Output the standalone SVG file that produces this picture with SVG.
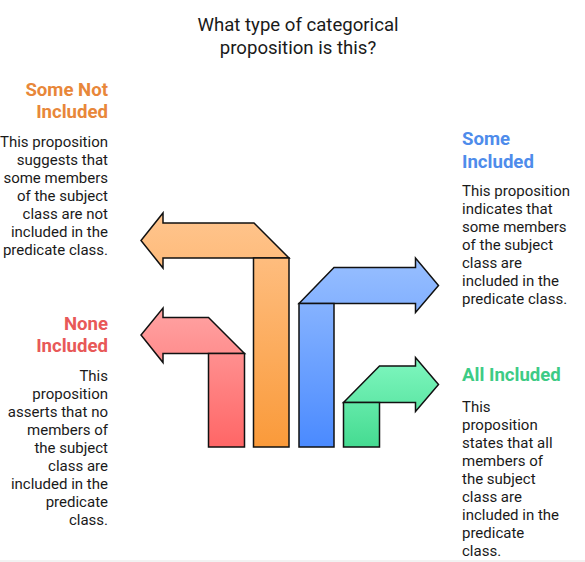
<svg xmlns="http://www.w3.org/2000/svg" width="585" height="562" viewBox="0 0 585 562">
<defs>
<linearGradient id="gOv" gradientUnits="userSpaceOnUse" x1="0" y1="213" x2="0" y2="447"><stop offset="0" stop-color="#FFC58E"/><stop offset="1" stop-color="#FA9A3A"/></linearGradient>
<linearGradient id="gRv" gradientUnits="userSpaceOnUse" x1="0" y1="308" x2="0" y2="447"><stop offset="0" stop-color="#FFA3A3"/><stop offset="1" stop-color="#FF6666"/></linearGradient>
<linearGradient id="gBv" gradientUnits="userSpaceOnUse" x1="0" y1="258" x2="0" y2="447"><stop offset="0" stop-color="#98BFFF"/><stop offset="1" stop-color="#4A8AFF"/></linearGradient>
<linearGradient id="gGv" gradientUnits="userSpaceOnUse" x1="0" y1="357" x2="0" y2="447"><stop offset="0" stop-color="#80F7C0"/><stop offset="1" stop-color="#45DB91"/></linearGradient>
</defs>
<style>
.sh{stroke:#111;stroke-width:1.5;stroke-linejoin:miter}
.t{font-family:Roboto,"Liberation Sans",sans-serif;fill:#1a1a1a}
.title{font-size:18.6px;text-anchor:middle}
.h{font-size:18.6px;font-weight:bold}
.b{font-size:15px}
.r{text-anchor:end}
</style>
<rect x="0" y="560" width="585" height="2" fill="#F2F2F2"/>
<g id="title"><text class="t title" x="298" y="31">What type of categorical</text><text class="t title" x="298" y="54">proposition is this?</text></g>
<g id="arrow-some-not-included">
<polygon class="sh" fill="url(#gOv)" points="163,258 163,268 141,240.5 163,213 163,223 254,223 289,258"/>
<rect class="sh" fill="url(#gOv)" x="253.5" y="258" width="35.5" height="189"/>
</g>
<g id="arrow-none-included">
<polygon class="sh" fill="url(#gRv)" points="163,353.5 163,362.5 141,335 163,308 163,317.5 208.5,317.5 244.5,353.5"/>
<rect class="sh" fill="url(#gRv)" x="208.5" y="353.5" width="36" height="93.5"/>
</g>
<g id="arrow-some-included">
<polygon class="sh" fill="url(#gBv)" points="299,303.5 334,267.5 415.5,267.5 415.5,258 438.5,285.5 415.5,312.5 415.5,303.5"/>
<rect class="sh" fill="url(#gBv)" x="299" y="303.5" width="35" height="143.5"/>
</g>
<g id="arrow-all-included">
<polygon class="sh" fill="url(#gGv)" points="343.5,402.5 379.5,366 415.5,366 415.5,357.5 438.5,384.5 415.5,411.5 415.5,402.5"/>
<rect class="sh" fill="url(#gGv)" x="343.5" y="402.5" width="36" height="44.5"/>
</g>
<g id="some-not-included">
<text class="t h r" x="108" y="96" style="fill:#E8873A">Some Not</text>
<text class="t h r" x="108" y="118" style="fill:#E8873A">Included</text>
<text class="t b r" x="108" y="147">This proposition</text>
<text class="t b r" x="108" y="165">suggests that</text>
<text class="t b r" x="108" y="183">some members</text>
<text class="t b r" x="108" y="201">of the subject</text>
<text class="t b r" x="108" y="219">class are not</text>
<text class="t b r" x="108" y="237">included in the</text>
<text class="t b r" x="108" y="255">predicate class.</text>
</g>
<g id="none-included">
<text class="t h r" x="108" y="330" style="fill:#E85858">None</text>
<text class="t h r" x="108" y="352" style="fill:#E85858">Included</text>
<text class="t b r" x="108" y="381">This</text>
<text class="t b r" x="108" y="399">proposition</text>
<text class="t b r" x="108" y="417">asserts that no</text>
<text class="t b r" x="108" y="435">members of</text>
<text class="t b r" x="108" y="453">the subject</text>
<text class="t b r" x="108" y="471">class are</text>
<text class="t b r" x="108" y="489">included in the</text>
<text class="t b r" x="108" y="507">predicate</text>
<text class="t b r" x="108" y="525">class.</text>
</g>
<g id="some-included">
<text class="t h" x="462" y="145" style="fill:#4E8CEB">Some</text>
<text class="t h" x="462" y="168" style="fill:#4E8CEB">Included</text>
<text class="t b" x="462" y="196">This proposition</text>
<text class="t b" x="462" y="214">indicates that</text>
<text class="t b" x="462" y="232">some members</text>
<text class="t b" x="462" y="250">of the subject</text>
<text class="t b" x="462" y="268">class are</text>
<text class="t b" x="462" y="286">included in the</text>
<text class="t b" x="462" y="304">predicate class.</text>
</g>
<g id="all-included">
<text class="t h" x="462" y="381" style="fill:#3DCB85">All Included</text>
<text class="t b" x="462" y="412">This</text>
<text class="t b" x="462" y="430">proposition</text>
<text class="t b" x="462" y="448">states that all</text>
<text class="t b" x="462" y="466">members of</text>
<text class="t b" x="462" y="484">the subject</text>
<text class="t b" x="462" y="502">class are</text>
<text class="t b" x="462" y="520">included in the</text>
<text class="t b" x="462" y="538">predicate</text>
<text class="t b" x="462" y="556">class.</text>
</g>
<g id="connectors"/>
</svg>
